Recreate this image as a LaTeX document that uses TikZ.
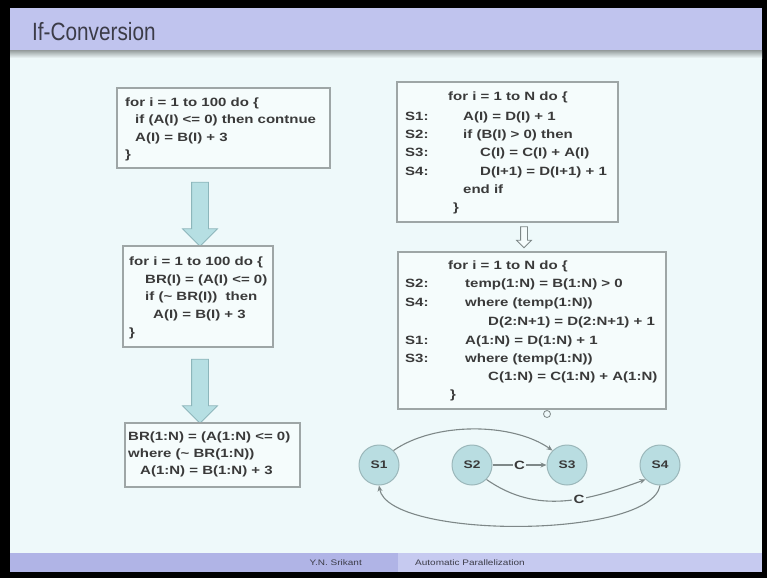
\documentclass[tikz,border=0pt]{standalone}
\usepackage{fontspec}
\setmainfont{Liberation Sans}
\newfontfamily\codefont[FakeStretch=1.25]{Liberation Sans}
\newfontfamily\titlefont[FakeStretch=0.83]{Liberation Sans}
\usepackage{tikz}
\usetikzlibrary{shapes.arrows,arrows.meta}

\definecolor{slidebg}{HTML}{EEF9FA}
\definecolor{titlebg}{HTML}{C0C4EE}
\definecolor{titletext}{HTML}{3C3C48}
\definecolor{boxfill}{HTML}{F5FCFC}
\definecolor{boxline}{HTML}{9EA6A6}
\definecolor{codetext}{HTML}{3A3A3A}
\definecolor{arrowfill}{HTML}{B6DFE3}
\definecolor{arrowline}{HTML}{8DB6BB}
\definecolor{nodefill}{HTML}{B9DDE1}
\definecolor{nodeline}{HTML}{9BB7BA}
\definecolor{edgegray}{HTML}{7E8888}
\definecolor{footdark}{HTML}{B0B4E6}
\definecolor{footlight}{HTML}{C6CAF0}

\tikzset{
  codebox/.style={draw=boxline, fill=boxfill, line width=1.2pt, inner sep=0pt},
  code/.style={anchor=west, inner sep=0pt, text=codetext, text height=8.6pt, text depth=2.4pt,
    font=\codefont\bfseries\fontsize{12}{14}\selectfont},
  bigarrow/.style={single arrow, draw=arrowline, fill=arrowfill, line width=0.8pt, rotate=-90,
    inner xsep=0pt, inner ysep=8pt, single arrow head extend=9pt, minimum height=64},
  smallarrow/.style={single arrow, draw=edgegray, fill=boxfill, line width=0.8pt, rotate=-90,
    inner xsep=0pt, inner ysep=3pt, single arrow head extend=4pt, minimum height=21},
  stmt/.style={circle, draw=nodeline, fill=nodefill, line width=1pt, minimum size=40, inner sep=0pt,
    text=codetext, font=\codefont\bfseries\fontsize{11}{13}\selectfont},
  dep/.style={draw=edgegray, line width=1.1pt, -{Stealth[length=6pt,width=5pt]}},
  lbl/.style={fill=slidebg, inner sep=1.5pt, text=codetext, font=\codefont\bfseries\fontsize{12}{14}\selectfont},
  foot/.style={inner sep=0pt, text=titletext, font=\codefont\fontsize{8}{9}\selectfont}
}

\begin{document}
\begin{tikzpicture}[x=1pt,y=-1pt]
\fill [black] (0,0) rectangle (767,578);
\useasboundingbox (0,0) rectangle (767,578);
\fill [slidebg] (10,8) rectangle (762,572);

% title bar
\fill [titlebg] (10,8) rectangle (762,51);
\shade [top color=boxline, bottom color=slidebg] (10,51) rectangle (762,58);
\node [anchor=west, inner sep=0pt, text=titletext, font=\titlefont\fontsize{25}{30}\selectfont] (title) at (32,32) {If-Conversion};

% left column
\node [codebox, minimum width=213, minimum height=80] (loopA) at (223.5,128) {};
\node [code] (a1) at (125,103) {for i = 1 to 100 do \{};
\node [code] (a2) at (135,120.5) {if (A(I) <= 0) then contnue};
\node [code] (a3) at (135,138) {A(I) = B(I) + 3};
\node [code] (a4) at (125,155.5) {\}};

\node [bigarrow] (down1) at (200,210) {};

\node [codebox, minimum width=150, minimum height=101] (loopB) at (198,296.5) {};
\node [code] (b1) at (129,262) {for i = 1 to 100 do \{};
\node [code] (b2) at (145,280) {BR(I) = (A(I) <= 0)};
\node [code] (b3) at (145,297.5) {if (\textasciitilde{} BR(I))\ \ then};
\node [code] (b4) at (153,315) {A(I) = B(I) + 3};
\node [code] (b5) at (129,333) {\}};

\node [bigarrow] (down2) at (200,387) {};

\node [codebox, minimum width=175, minimum height=64] (loopC) at (212.5,455) {};
\node [code] (c1) at (128,437) {BR(1:N) = (A(1:N) <= 0)};
\node [code] (c2) at (128,454) {where (\textasciitilde{} BR(1:N))};
\node [code] (c3) at (140,471) {A(1:N) = B(1:N) + 3};

% right column
\node [codebox, minimum width=221, minimum height=140] (origR) at (507.5,152) {};
\node [code] (r1) at (448,97) {for i = 1 to N do \{};
\node [code] (r2s) at (405,117) {S1:};
\node [code] (r2) at (463,117) {A(I) = D(I) + 1};
\node [code] (r3s) at (405,135) {S2:};
\node [code] (r3) at (463,135) {if (B(I) > 0) then};
\node [code] (r4s) at (405,153) {S3:};
\node [code] (r4) at (480,153) {C(I) = C(I) + A(I)};
\node [code] (r5s) at (405,172) {S4:};
\node [code] (r5) at (480,172) {D(I+1) = D(I+1) + 1};
\node [code] (r6) at (463,190) {end if};
\node [code] (r7) at (453,208) {\}};

\node [smallarrow] (down3) at (524,235.5) {};

\node [codebox, minimum width=268, minimum height=157] (vecR) at (532,330.5) {};
\node [code] (v1) at (448,266) {for i = 1 to N do \{};
\node [code] (v2s) at (405,284) {S2:};
\node [code] (v2) at (465,284) {temp(1:N) = B(1:N) > 0};
\node [code] (v3s) at (405,303) {S4:};
\node [code] (v3) at (465,303) {where (temp(1:N))};
\node [code] (v4) at (488,322) {D(2:N+1) = D(2:N+1) + 1};
\node [code] (v5s) at (405,341) {S1:};
\node [code] (v5) at (465,341) {A(1:N) = D(1:N) + 1};
\node [code] (v6s) at (405,359) {S3:};
\node [code] (v6) at (465,359) {where (temp(1:N))};
\node [code] (v7) at (488,377) {C(1:N) = C(1:N) + A(1:N)};
\node [code] (v8) at (450,395) {\}};

\node [circle, draw=edgegray, line width=0.8pt, inner sep=0pt, minimum size=7] (cursor) at (547,414) {};

% dependence graph
\node [stmt] (s1) at (379,465) {S1};
\node [stmt] (s2) at (472,465) {S2};
\node [stmt] (s3) at (567,465) {S3};
\node [stmt] (s4) at (660,465) {S4};

\draw [dep] (s1.north east) to[out=35,in=145,looseness=0.8] (s3.north west);
\draw [dep] (s2) -- node [lbl] {C} (s3);
\draw [dep] (s2.south east) to[out=-35,in=200] node [lbl, pos=0.6] {C} (s4.south west);
\draw [dep] (s4.south) to[out=-100,in=-80,looseness=0.5] (s1.south);

% footer
\fill [footdark] (10,553) rectangle (398,572);
\fill [footlight] (398,553) rectangle (762,572);
\node [foot, anchor=east] (author) at (362,562.5) {Y.N. Srikant};
\node [foot, anchor=west] (talk) at (415,562.5) {Automatic Parallelization};
\end{tikzpicture}
\end{document}
